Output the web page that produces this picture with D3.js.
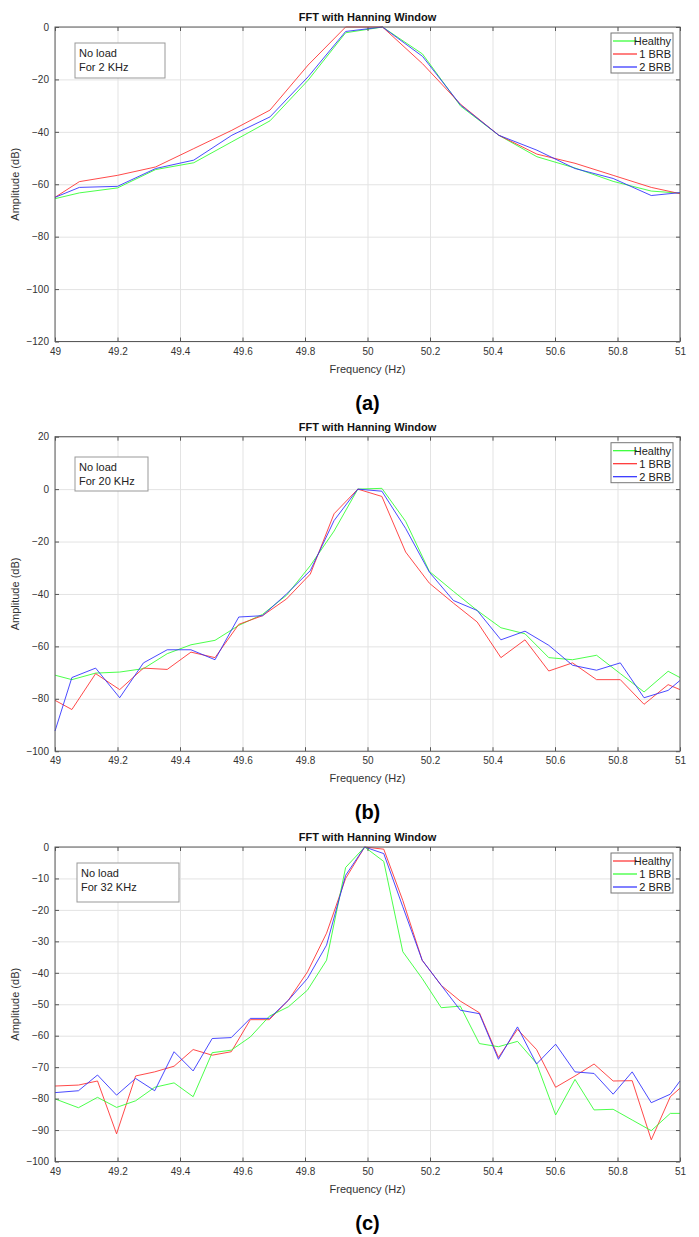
<!DOCTYPE html>
<meta charset="utf-8">
<style>
body { margin: 0; background: #fff; }
text { font-family: "Liberation Sans", Arial, sans-serif; }
.grid line { stroke: #e3e3e3; }
.grid path { display: none; }
.ax path { stroke: none; }
.ax line { stroke: #555; }
.ax text { fill: #333; font-size: 10px; }
.series { fill: none; stroke-width: 1; stroke-opacity: 0.85; }
</style>
<body>
<script src="https://cdn.jsdelivr.net/npm/d3@7"></script>
<script>
// panel (a) : 2 KHz
var freqA = [49, 49.078, 49.2, 49.322, 49.444, 49.566, 49.688, 49.81, 49.93, 50.048,
  50.176, 50.298, 50.42, 50.542, 50.664, 50.786, 50.908, 51];
var healthyA = [-65.5, -63.3, -61.4, -54.4, -51.8, -43.8, -35.8, -20.3, -2.2, 0,
  -10.3, -30.2, -41.3, -49.5, -53.8, -58.9, -62.6, -63.4];
var brb1A = [-65, -59, -56.6, -53.4, -46.4, -39.4, -31.7, -14.5, 0, 0,
  -14, -29.5, -41.3, -48.5, -52, -56.6, -61.2, -63.6];
var brb2A = [-65, -61.2, -60.8, -54, -50.8, -41.3, -34.3, -19, -1.7, 0,
  -11.2, -29.8, -41.3, -47, -54, -57.8, -64.3, -63.2];

// panel (b) : 20 KHz
var freqB = [49, 49.054, 49.130, 49.207, 49.283, 49.359, 49.435, 49.512, 49.588, 49.664,
  49.741, 49.817, 49.893, 49.969, 50.046, 50.122, 50.198, 50.275, 50.351, 50.427,
  50.504, 50.580, 50.656, 50.733, 50.809, 50.885, 50.962, 51];
var healthyB = [-71, -72.7, -70.2, -69.8, -68.5, -62.8, -59.4, -57.7, -52, -47.8,
  -40.5, -29.2, -16, 0, 0.3, -12.3, -31.4, -39, -46.3, -52.9,
  -55.2, -64.3, -65.1, -63.4, -70.4, -77.4, -69.5, -71.9];
var brb1B = [-80.6, -84.1, -70.4, -76.5, -68.3, -68.8, -62.2, -64.3, -51.6, -48.3,
  -41.9, -32.4, -9.4, 0, -2.8, -24, -35.9, -43.5, -50.7, -64.3,
  -57.5, -69.4, -66.3, -72.7, -72.7, -82.1, -74.6, -76.5];
var brb2B = [-92.3, -71.9, -68.3, -79.6, -66.3, -61.3, -61.3, -65.1, -48.8, -48.3,
  -40, -31.1, -12, 0, -0.8, -15, -31.7, -42.5, -46.3, -57.5,
  -54.2, -59.6, -67.2, -69.1, -66.3, -79.6, -76.8, -73];

// panel (c) : 32 KHz
var freqC = [49, 49.075, 49.136, 49.197, 49.258, 49.319, 49.381, 49.442, 49.503, 49.564,
  49.625, 49.686, 49.747, 49.808, 49.869, 49.930, 49.991, 50.052, 50.113, 50.175,
  50.236, 50.297, 50.358, 50.419, 50.480, 50.541, 50.602, 50.664, 50.725, 50.786,
  50.847, 50.908, 50.969, 51];
var healthyC = [-76, -75.7, -74.4, -91.2, -72.8, -71.5, -69.7, -64.4, -66.2, -65.1,
  -54.9, -54.9, -48.7, -39.7, -27.4, -10, 0, -0.7, -17, -36,
  -44, -49, -52.7, -66.9, -58, -64.4, -76.4, -72.8, -69, -74.4,
  -74.3, -93.1, -79.4, -76.7];
var brb1C = [-80.1, -82.9, -79.6, -82.8, -80.7, -76.4, -75, -79.4, -65.4, -64.6,
  -60.4, -53.8, -50.8, -45.5, -36, -6.5, 0, -4.6, -33.3, -41.8,
  -51.1, -50.6, -62.5, -63.5, -61.8, -68.8, -85.2, -73.9, -83.6, -83.4,
  -86.8, -90.2, -84.7, -84.7];
var brb2C = [-78.1, -77.5, -72.5, -78.9, -73.6, -77.5, -65.1, -71.2, -60.9, -60.6,
  -54.5, -54.5, -48.7, -41.8, -31.2, -9, 0, -2.1, -19, -36,
  -44, -51.9, -53, -67.5, -57.2, -69, -62.7, -71.5, -72, -78.6,
  -71.5, -81.3, -78.6, -74.4];

var xTicks = [49, 49.2, 49.4, 49.6, 49.8, 50, 50.2, 50.4, 50.6, 50.8, 51];
var yTicksA = [0, -20, -40, -60, -80, -100, -120];
var yTicksB = [20, 0, -20, -40, -60, -80, -100];
var yTicksC = [0, -10, -20, -30, -40, -50, -60, -70, -80, -90, -100];

var legendNames = ["Healthy", "1 BRB", "2 BRB"];
var green = "#2cff2c", red = "#ff2a2a", blue = "#2a2aff";

var panels = [
  {top: 27, yDom: [-120, 0], yTicks: yTicksA, freq: freqA, series: [healthyA, brb1A, brb2A],
   colors: [green, red, blue], note: ["No load", "For 2 KHz"], noteBox: [75, 43, 90, 35], tag: "(a)"},
  {top: 436.7, yDom: [-100, 20], yTicks: yTicksB, freq: freqB, series: [healthyB, brb1B, brb2B],
   colors: [green, red, blue], note: ["No load", "For 20 KHz"], noteBox: [75, 457, 73, 34], tag: "(b)"},
  {top: 847, yDom: [-100, 0], yTicks: yTicksC, freq: freqC, series: [healthyC, brb1C, brb2C],
   colors: [red, green, blue], note: ["No load", "For 32 KHz"], noteBox: [77, 863, 102, 39], tag: "(c)"}
];

var left = 55, right = 680, h = 314.5;

var svg = d3.select("body").append("svg")
    .attr("width", 699)
    .attr("height", 1237);

var x = d3.scaleLinear().domain([49, 51]).range([left, right]);

panels.forEach(function(p) {
  var y = d3.scaleLinear().domain(p.yDom).range([p.top + h, p.top]);
  var g = svg.append("g");

  // grid
  g.append("g").attr("class", "grid")
      .attr("transform", "translate(0," + (p.top + h) + ")")
      .call(d3.axisBottom(x).tickValues(xTicks).tickSize(-h).tickFormat(""));
  g.append("g").attr("class", "grid")
      .attr("transform", "translate(" + left + ",0)")
      .call(d3.axisLeft(y).tickValues(p.yTicks).tickSize(-(right - left)).tickFormat(""));

  // lines
  var line = d3.line()
      .x(function(d, i) { return x(p.freq[i]); })
      .y(function(d) { return y(d); });
  p.series.forEach(function(s, k) {
    g.append("path").attr("class", "series")
        .attr("d", line(s))
        .attr("stroke", p.colors[k]);
  });

  // axes (ticks inward, all four sides)
  g.append("g").attr("class", "ax")
      .attr("transform", "translate(0," + (p.top + h) + ")")
      .call(d3.axisBottom(x).tickValues(xTicks).tickSizeInner(-4).tickSizeOuter(0).tickPadding(6)
        .tickFormat(d3.format("")));
  g.append("g").attr("class", "ax")
      .attr("transform", "translate(0," + p.top + ")")
      .call(d3.axisTop(x).tickValues(xTicks).tickSizeInner(-4).tickSizeOuter(0).tickFormat(""));
  g.append("g").attr("class", "ax")
      .attr("transform", "translate(" + left + ",0)")
      .call(d3.axisLeft(y).tickValues(p.yTicks).tickSizeInner(-4).tickSizeOuter(0).tickPadding(6));
  g.append("g").attr("class", "ax")
      .attr("transform", "translate(" + right + ",0)")
      .call(d3.axisRight(y).tickValues(p.yTicks).tickSizeInner(-4).tickSizeOuter(0).tickFormat(""));

  g.append("rect")
      .attr("x", left).attr("y", p.top)
      .attr("width", right - left).attr("height", h)
      .attr("fill", "none").attr("stroke", "#5a5a5a").attr("stroke-width", 1);

  // title and labels
  g.append("text")
      .attr("x", (left + right) / 2).attr("y", p.top - 6)
      .attr("text-anchor", "middle")
      .style("font-size", "11px").style("font-weight", "bold").attr("fill", "#111")
      .text("FFT with Hanning Window");
  g.append("text")
      .attr("x", (left + right) / 2).attr("y", p.top + h + 31)
      .attr("text-anchor", "middle")
      .style("font-size", "11px").attr("fill", "#333")
      .text("Frequency (Hz)");
  g.append("text")
      .attr("transform", "translate(19," + (p.top + h / 2) + ") rotate(-90)")
      .attr("text-anchor", "middle")
      .style("font-size", "11px").attr("fill", "#333")
      .text("Amplitude (dB)");
  g.append("text")
      .attr("x", (left + right) / 2).attr("y", p.top + h + 68)
      .attr("text-anchor", "middle")
      .style("font-size", "20px").style("font-weight", "bold").attr("fill", "#000")
      .text(p.tag);

  // note box
  var nb = p.noteBox;
  g.append("rect")
      .attr("x", nb[0]).attr("y", nb[1]).attr("width", nb[2]).attr("height", nb[3])
      .attr("fill", "#fff").attr("stroke", "#999");
  p.note.forEach(function(t, i) {
    g.append("text")
        .attr("x", nb[0] + 4).attr("y", nb[1] + 14 + i * 14)
        .style("font-size", "11px").attr("fill", "#222")
        .text(t);
  });

  // legend
  var lg = g.append("g").attr("transform", "translate(611," + (p.top + 6) + ")");
  lg.append("rect").attr("width", 62).attr("height", 40)
      .attr("fill", "#fff").attr("stroke", "#777");
  legendNames.forEach(function(n, i) {
    var yy = 8 + i * 13;
    lg.append("line").attr("x1", 2).attr("x2", 26).attr("y1", yy).attr("y2", yy)
        .attr("stroke", p.colors[i]).attr("stroke-width", 1.2);
    lg.append("text").attr("x", 60).attr("y", yy + 4)
        .attr("text-anchor", "end")
        .style("font-size", "11px").attr("fill", "#222")
        .text(n);
  });
});
</script>
</body>
